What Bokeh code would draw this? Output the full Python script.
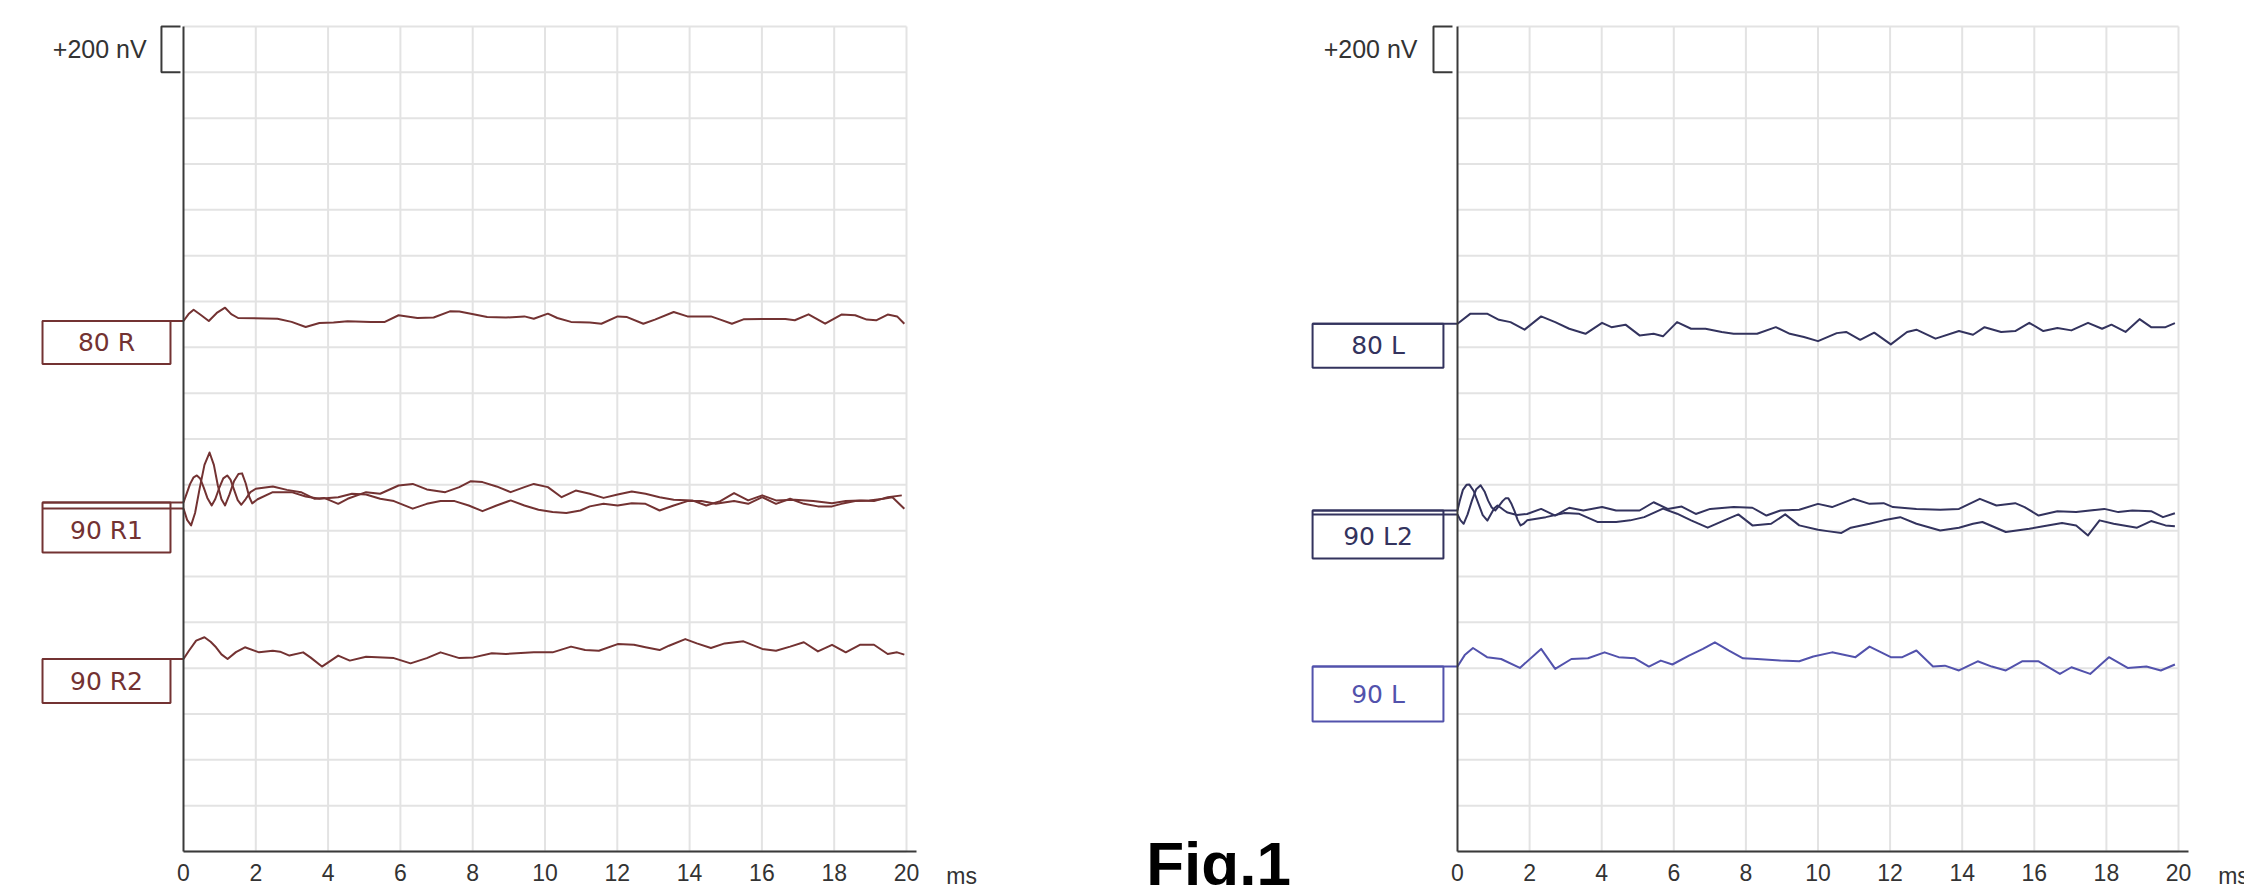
from bokeh.plotting import figure
from bokeh.layouts import row
from bokeh.models import Range1d, LinearAxis, FixedTicker
from bokeh.core.properties import value
from bokeh.embed import file_html
from bokeh.resources import INLINE

# ---------------- data ----------------
TIME_TICKS = [0, 2, 4, 6, 8, 10, 12, 14, 16, 18, 20]
NV_GRID = list(range(0, 3601, 200))
SCALE_NV = 200          # "+200 nV" calibration bar
TIME_UNIT = "ms"
SCALE_TEXT = "+200 nV"
FIG_TEXT = "Fig.1"

# traces: (time ms, amplitude nV relative to trace baseline)
R80 = [(0,0),(0.14,30),(0.28,49),(0.49,25),(0.70,0),(0.92,35),(1.15,58),(1.32,30),(1.51,13),(2.60,10),(2.99,-4),(3.38,-26),(3.76,-9),(4.15,-7),
       (4.54,-1),(5.18,-4),(5.57,-4),(5.95,25),(6.47,13),(6.92,15),(7.37,42),(7.63,41),(8.02,29),(8.40,17),
       (8.92,15),(9.43,20),(9.69,10),(10.08,32),(10.34,13),(10.72,-4),(11.24,-7),(11.56,-12),(12.01,20),(12.27,17),
       (12.72,-12),(13.04,6),(13.56,39),(13.94,20),(14.59,20),(14.85,6),(15.17,-12),(15.49,7),(16.01,9),(16.65,9),
       (16.91,3),(17.29,29),(17.75,-12),(18.20,28),(18.58,25),(18.90,6),(19.16,3),(19.48,28),(19.74,20),(19.94,-12)]
R90_1A = [(0,0),(0.08,35),(0.18,80),(0.28,110),(0.37,118),(0.46,105),(0.56,65),(0.66,20),(0.78,-13),(0.88,15),
          (0.98,60),(1.1,105),(1.21,118),(1.3,100),(1.4,55),(1.5,10),(1.6,-10),(1.72,15),(1.85,45),
          (2.0,60),(2.47,70),(2.86,55),(3.25,45),(3.63,16),(3.89,20),(4.28,-6),(4.54,16),(5.05,45),(5.44,38),
          (5.95,74),(6.34,81),(6.73,57),(7.24,45),(7.63,67),(7.95,93),(8.27,89),(8.66,70),(9.05,45),(9.43,67),
          (9.69,81),(10.08,67),(10.46,23),(10.85,52),(11.24,38),(11.62,20),(12.01,35),(12.40,48),(12.78,38),(13.17,23),
          (13.56,12),(14.07,9),(14.46,-13),(14.85,6),(15.23,41),(15.62,9),(16.01,31),(16.39,9),(16.91,12),(17.42,6),
          (17.94,-3),(18.32,6),(18.71,9),(19.10,6),(19.48,23),(19.87,31)]
R90_1B = [(0,0),(0.1,-50),(0.21,-74),(0.32,-20),(0.45,90),(0.58,190),(0.72,244),(0.84,190),(0.95,100),(1.05,40),
          (1.15,13),(1.27,60),(1.4,120),(1.52,150),(1.62,153),(1.72,110),(1.82,50),(1.9,22),
          (2.05,40),(2.47,71),(2.99,71),(3.38,52),(3.76,42),(4.28,49),(4.66,64),(5.05,61),(5.44,42),
          (5.82,32),(6.34,-1),(6.73,20),(7.11,32),(7.50,32),(7.89,13),(8.27,-12),(8.66,13),(9.05,35),(9.43,13),
          (9.82,-6),(10.21,-16),(10.59,-20),(10.98,-9),(11.24,9),(11.62,20),(12.01,13),(12.40,23),(12.78,20),(13.17,-9),
          (13.56,13),(13.94,32),(14.33,32),(14.72,20),(15.23,32),(15.62,20),(16.01,49),(16.39,20),(16.78,42),(17.16,20),
          (17.55,9),(17.94,9),(18.20,20),(18.58,32),(18.97,35),(19.36,42),(19.61,49),(19.94,-1)]
R90_2 = [(0,0),(0.15,36),(0.35,80),(0.58,95),(0.75,75),(0.9,51),(1.05,20),(1.22,0),(1.45,30),(1.70,51),(2.09,29),(2.47,36),(2.67,32),(2.93,15),
         (3.31,29),(3.51,7),(3.83,-33),(4.28,15),(4.60,-7),(5.05,10),(5.82,4),(6.28,-19),(6.73,4),(7.11,29),
         (7.63,4),(8.02,7),(8.53,25),(8.92,22),(9.69,29),(10.21,29),(10.72,54),(11.11,39),(11.49,36),(12.01,65),
         (12.46,62),(12.78,51),(13.17,39),(13.43,58),(13.88,87),(14.20,68),(14.59,48),(14.97,68),(15.49,77),(16.01,44),
         (16.39,36),(16.78,54),(17.16,73),(17.55,33),(17.94,62),(18.32,29),(18.71,62),(19.10,62),(19.48,22),(19.74,29),
         (19.94,19)]
L80 = [(0,0),(0.36,44),(0.82,44),(1.15,17),(1.47,7),(1.86,-26),(2.32,32),(2.71,7),(3.10,-22),(3.55,-44),
       (4.01,4),(4.27,-15),(4.66,-4),(5.05,-51),(5.44,-44),(5.70,-55),(6.09,7),(6.48,-22),(6.88,-22),(7.33,-36),
       (7.66,-44),(8.31,-44),(8.83,-15),(9.22,-44),(9.61,-58),(10.00,-76),(10.52,-41),(10.78,-36),(11.17,-70),(11.56,-39),
       (12.02,-90),(12.47,-36),(12.73,-26),(13.26,-65),(13.91,-32),(14.30,-48),(14.62,-15),(15.08,-36),(15.47,-32),(15.86,4),
       (16.25,-32),(16.64,-19),(17.03,-29),(17.49,4),(17.88,-22),(18.14,-4),(18.53,-36),(18.92,20),(19.24,-15),(19.64,-15),
       (19.90,3)]
L90_2C = [(0,0),(0.06,40),(0.15,90),(0.25,112),(0.33,113),(0.45,85),(0.58,30),(0.7,-20),(0.83,-44),(0.93,-15),
          (1.02,10),(1.11,22),(1.2,12),(1.3,0),(1.39,-9),(1.65,-20),
          (1.93,-15),(2.32,7),(2.71,-22),(3.10,12),(3.49,0),(4.01,15),(4.40,0),(5.05,0),(5.44,36),(5.83,7),
          (6.22,17),(6.61,-15),(7.01,7),(7.66,15),(8.18,12),(8.57,-22),(8.96,0),(9.48,3),(10.00,29),(10.39,15),
          (10.98,51),(11.43,29),(11.82,32),(12.08,15),(12.73,7),(13.39,3),(13.91,7),(14.49,51),(14.95,22),(15.47,32),
          (15.73,15),(16.12,-22),(16.64,-3),(17.16,-7),(17.94,7),(18.33,-7),(18.72,0),(19.24,-3),(19.57,-29),(19.90,-12)]
L90_2D = [(0,0),(0.08,-25),(0.17,-41),(0.28,0),(0.4,60),(0.52,110),(0.64,127),(0.75,100),(0.85,60),(0.95,30),
          (1.05,17),(1.14,35),(1.25,58),(1.33,70),(1.41,70),(1.5,45),(1.58,15),(1.67,-25),(1.75,-48),(1.84,-40),
          (1.93,-26),(2.45,-12),(2.97,6),(3.36,3),(3.88,-33),(4.40,-33),(4.79,-26),(5.18,-12),(5.70,25),
          (6.09,3),(6.48,-26),(6.94,-58),(7.40,-26),(7.79,0),(8.18,-48),(8.70,-41),(9.09,0),(9.48,-48),(10.00,-67),
          (10.26,-73),(10.65,-81),(10.91,-58),(11.43,-41),(11.82,-26),(12.28,-12),(12.73,-41),(13.39,-70),(13.91,-58),(14.30,-41),
          (14.56,-33),(15.21,-77),(15.86,-63),(16.25,-52),(16.77,-38),(17.16,-48),(17.49,-92),(17.81,-26),(18.20,-41),(18.85,-58),
          (19.24,-29),(19.64,-48),(19.90,-52)]
L90 = [(0,0),(0.2,50),(0.43,81),(0.82,41),(1.21,33),(1.73,-6),(2.32,77),(2.71,-10),(3.16,33),(3.62,36),(4.08,62),
       (4.47,41),(4.92,36),(5.31,0),(5.64,26),(5.96,9),(6.42,48),(6.81,77),(7.14,106),(7.53,70),(7.92,36),
       (8.31,33),(8.96,26),(9.48,23),(9.87,44),(10.39,62),(11.04,41),(11.43,87),(12.02,41),(12.34,41),(12.73,70),
       (13.19,0),(13.52,4),(13.91,-17),(14.43,23),(14.82,0),(15.21,-17),(15.66,23),(16.12,23),(16.71,-32),(17.03,-3),
       (17.55,-32),(18.07,41),(18.59,-6),(19.11,0),(19.51,-17),(19.90,9)]

# groups: label, baselines (nV), traces
LEFT_GROUPS = [("80 R", [2315], [R80]),
               ("90 R1", [1523, 1497], [R90_1A, R90_1B]),
               ("90 R2", [840], [R90_2])]
RIGHT_GROUPS = [("80 L", [2303], [L80]),
                ("90 L2", [1488, 1471], [L90_2C, L90_2D]),
                ("90 L", [807], [L90])]

# ---------------- styling ----------------
FONT = "Liberation Sans"
BOX_FONT = "DejaVu Sans"
GRID_C = "#e3e3e3"
AXIS_C = "#3a3a3a"
TXT_C = "#333333"
MAROON = "#733232"
NAVY = "#33335e"
BLUE = "#5252ac"
H = 885


def panel(width, xr, groups, colors, box_hs, box_l, box_r, scale_text_x, bracket_x, bracket_x2, ms_x):
    p = figure(width=width, height=H, x_range=Range1d(*xr), y_range=Range1d(-148.36, 3713.45),
               x_axis_type=None, y_axis_type=None, toolbar_location=None,
               output_backend="svg", min_border=0)
    p.outline_line_color = None
    p.background_fill_color = "white"
    p.border_fill_color = "white"

    # grid
    p.segment(x0=[0] * len(NV_GRID), y0=NV_GRID, x1=[TIME_TICKS[-1]] * len(NV_GRID), y1=NV_GRID,
              line_color=GRID_C, line_width=2)
    vt = TIME_TICKS[1:]
    p.segment(x0=vt, y0=[0] * len(vt), x1=vt, y1=[NV_GRID[-1]] * len(vt),
              line_color=GRID_C, line_width=2)

    # axes
    xa = LinearAxis(fixed_location=0, ticker=FixedTicker(ticks=TIME_TICKS), bounds=(0, 20.27),
                    major_tick_out=0, major_tick_in=0, minor_tick_out=0, minor_tick_in=0,
                    major_label_standoff=12, major_label_text_font_size="23px",
                    major_label_text_font=FONT, major_label_text_color=TXT_C,
                    axis_line_color=AXIS_C, axis_line_width=2)
    p.add_layout(xa, "below")
    ya = LinearAxis(fixed_location=0, ticker=FixedTicker(ticks=[]), bounds=(0, NV_GRID[-1]),
                    major_tick_out=0, major_tick_in=0, minor_tick_out=0, minor_tick_in=0,
                    major_label_text_font_size="0px",
                    axis_line_color=AXIS_C, axis_line_width=2)
    p.add_layout(ya, "left")

    # unit label
    p.text(x=[ms_x], y=[-52], text=[TIME_UNIT], text_font=value(FONT), text_font_size="23px",
           text_color=TXT_C, text_align="left", text_baseline="top")

    # calibration bar
    top = NV_GRID[-1]
    p.line(x=[bracket_x2, bracket_x, bracket_x, bracket_x2], y=[top, top, top - SCALE_NV, top - SCALE_NV],
           line_color=AXIS_C, line_width=2)
    p.text(x=[scale_text_x], y=[top - SCALE_NV / 2], text=[SCALE_TEXT], text_font=value(FONT),
           text_font_size="25px", text_color=TXT_C, text_align="right", text_baseline="middle")

    # traces + labels
    for (label, bases, traces), col, bh in zip(groups, colors, box_hs):
        for b, tr in zip(bases, traces):
            t = [a for a, _ in tr]
            v = [b + c for _, c in tr]
            p.line(t, v, line_color=col, line_width=2, line_join="round")
        hi, lo = max(bases), min(bases)
        p.quad(left=[box_l], right=[box_r], top=[hi], bottom=[lo - bh],
               fill_color="white", line_color=col, line_width=2)
        p.segment(x0=[box_l] * len(bases), y0=bases, x1=[0] * len(bases), y1=bases,
                  line_color=col, line_width=2)
        p.text(x=[(box_l + box_r) / 2], y=[lo - bh / 2], text=[label], text_font=value(BOX_FONT),
               text_font_size="25px", text_color=col, text_align="center", text_baseline="middle")
    return p


p1 = panel(1120, (-5.0622, 25.9198), LEFT_GROUPS, [MAROON, MAROON, MAROON], [188, 192, 192],
           -3.90, -0.36, -1.02, -0.61, -0.083, 21.1)
p2 = panel(1124, (-9.3481, 21.8308), RIGHT_GROUPS, [NAVY, NAVY, BLUE], [192, 192, 240],
           -4.02, -0.39, -1.11, -0.666, -0.139, 21.1)

p2.text(x=[-8.635], y=[-52], text=[FIG_TEXT], text_font=value(FONT), text_font_size="62px",
        text_font_style="bold", text_color="black", text_align="left", text_baseline="middle")

layout = row(p1, p2)
open("out.html", "w").write(file_html(layout, INLINE))
